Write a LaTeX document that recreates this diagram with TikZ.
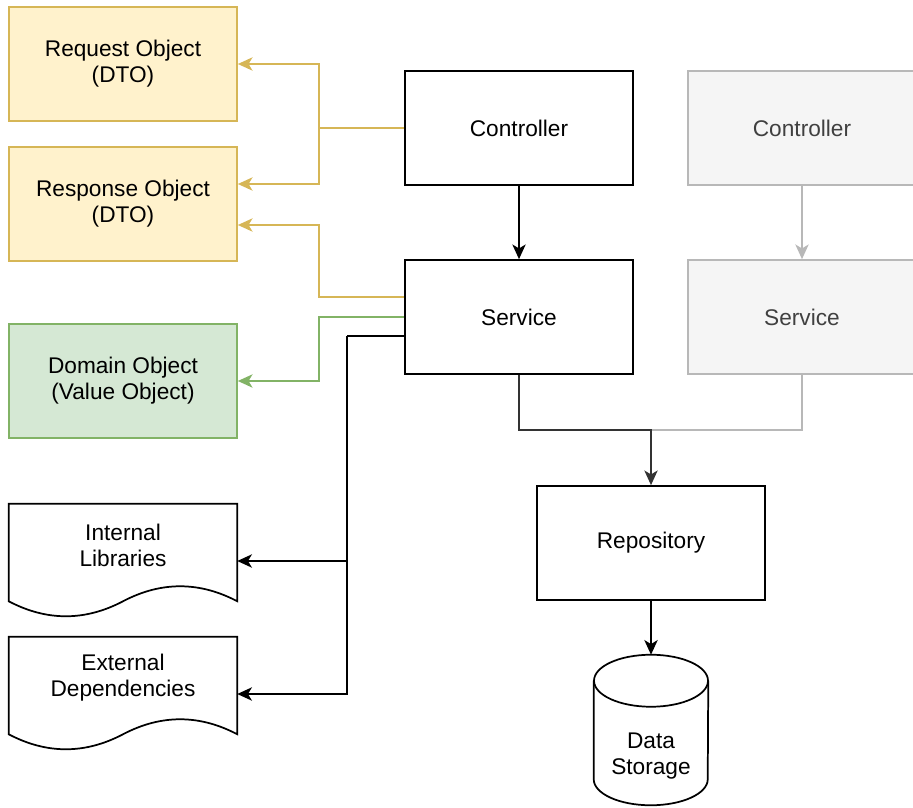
\documentclass[tikz,border=0pt]{standalone}
\usepackage{fontspec}
\setmainfont{Liberation Sans}
\usetikzlibrary{arrows.meta,calc}

\definecolor{dtofill}{HTML}{FFF2CC}
\definecolor{dtoline}{HTML}{D6B656}
\definecolor{domfill}{HTML}{D5E8D4}
\definecolor{domline}{HTML}{82B366}
\definecolor{oldfill}{HTML}{F5F5F5}
\definecolor{oldline}{HTML}{B8B8B8}
\definecolor{oldtext}{HTML}{404040}
\definecolor{darkline}{HTML}{333333}

\begin{document}
\begin{tikzpicture}[x=0.75pt, y=-0.75pt,
    every node/.style={font=\fontsize{17}{19.5}\selectfont, align=center},
    box/.style={draw, line width=1.3pt, minimum width=171pt, minimum height=85.5pt, inner sep=0pt},
    dtobox/.style={box, draw=dtoline, fill=dtofill},
    dombox/.style={box, draw=domline, fill=domfill},
    oldbox/.style={box, draw=oldline, fill=oldfill, text=oldtext},
    docbox/.style={minimum width=171pt, minimum height=85.5pt, inner sep=0pt},
    outline/.style={line width=1.3pt},
    link/.style={line width=1.3pt, -{Stealth[length=11pt, width=10pt, inset=3pt]}},
  ]
  \useasboundingbox (0,0) rectangle (913,807);

  % Objects on the left:
  \node[dtobox] (req) at (123,64) {Request Object\\(DTO)};
  \node[dtobox] (resp) at (123,204) {Response Object\\(DTO)};
  \node[dombox] (dom) at (123,381) {Domain Object\\(Value Object)};
  \node[docbox] (lib) at (123,561) {};
  \node (libtext) at ($(lib.center)+(0,-16)$) {Internal\\Libraries};
  \node[docbox] (ext) at (123,694) {};
  \node (exttext) at ($(ext.center)+(0,-16)$) {External\\Dependencies};
  \foreach \d in {lib,ext}
    \draw[outline] (\d.north west) -- (\d.north east) -- ($(\d.south east)+(0,-17)$)
      .. controls +(-38,-20) and +(38,-20) .. ($(\d.south)+(0,-17)$)
      .. controls +(-38,20) and +(38,20) .. ($(\d.south west)+(0,-17)$) -- cycle;

  % Layers:
  \node[box] (ctrl) at (519,128) {Controller};
  \node[box] (svc) at (519,317) {Service};
  \node[oldbox] (oldctrl) at (802,128) {Controller};
  \node[oldbox] (oldsvc) at (802,317) {Service};
  \node[box] (repo) at (651,543) {Repository};
  \node[minimum width=85.5pt, minimum height=112.5pt, inner sep=0pt] (store) at (651,730) {};
  \draw[outline] ($(store.north west)+(0,26)$) -- ($(store.south west)+(0,-26)$)
    arc[start angle=180, end angle=360, x radius=42.75pt, y radius=19.5pt]
    -- ($(store.north east)+(0,26)$);
  \draw[outline] ($(store.north)+(0,26)$) ellipse[x radius=42.75pt, y radius=19.5pt];
  \node (storetext) at ($(store.center)+(0,26.5)$) {Data\\Storage};

  % Arrows:
  \draw[outline, dtoline] (ctrl.west) -- ++(-85,0) coordinate (ctrlsplit);
  \draw[link, dtoline] (ctrlsplit) |- (req.east);
  \draw[link, dtoline] (ctrlsplit) |- ($(resp.east)+(0,-20)$);
  \draw[link, dtoline] ($(svc.west)+(0,-20)$) -- ++(-85,0) |- ($(resp.east)+(0,21)$);
  \draw[link, domline] (svc.west) -- ++(-85,0) |- (dom.east);
  \draw[outline] ($(svc.west)+(0,19)$) -- ++(-57,0) coordinate (svcsplit);
  \draw[link] (svcsplit) |- (lib.east);
  \draw[link] (svcsplit) |- (ext.east);
  \draw[link] (ctrl.south) -- (svc.north);
  \draw[link, oldline] (oldctrl.south) -- (oldsvc.north);
  \coordinate (merge) at (651,430);
  \draw[outline, oldline] (oldsvc.south) |- (merge);
  \draw[link, darkline] (svc.south) |- (merge) -- (repo.north);
  \draw[link] (repo.south) -- (store.north);
\end{tikzpicture}
\end{document}
